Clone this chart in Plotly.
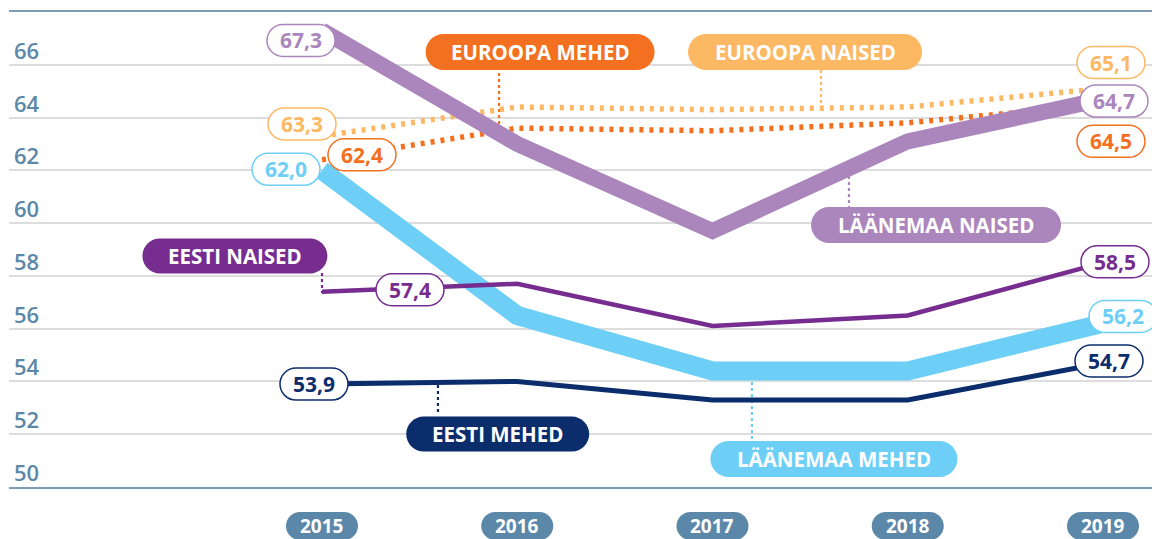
import plotly.graph_objects as go

# ---------------- data ----------------
years = [2015, 2016, 2017, 2018, 2019]
laanemaa_naised = [67.3, 63.0, 59.7, 63.1, 64.7]
laanemaa_mehed = [62.0, 56.5, 54.4, 54.4, 56.2]
eesti_naised = [57.4, 57.7, 56.1, 56.5, 58.5]
eesti_mehed = [53.9, 54.0, 53.3, 53.3, 54.7]
euroopa_mehed = [62.4, 63.6, 63.5, 63.8, 64.5]
euroopa_naised = [63.3, 64.4, 64.3, 64.4, 65.1]
y_ticks = [50, 52, 54, 56, 58, 60, 62, 64, 66]
year_labels = ["2015", "2016", "2017", "2018", "2019"]

# ---------------- styles ----------------
C_LN = "#ab86bd"   # Läänemaa naised
C_LM = "#6dcff6"   # Läänemaa mehed
C_EN = "#772c8f"   # Eesti naised
C_EM = "#0b2d6b"   # Eesti mehed
C_UM = "#f37021"   # Euroopa mehed
C_UN = "#fdb863"   # Euroopa naised
C_AX = "#5b87a9"
FONT = "Open Sans"

X0, X1 = 2013.397, 2019.292
Y0, Y1 = 50, 68

fig = go.Figure()


def line(y, color, width, dash=None, name=""):
    fig.add_trace(go.Scatter(
        x=years, y=y, mode="lines", name=name, hoverinfo="skip",
        line=dict(color=color, width=width, dash=dash),
    ))


line(laanemaa_mehed, C_LM, 19, name="Läänemaa mehed")
line(euroopa_naised, C_UN, 5.5, dash="4px,6px", name="Euroopa naised")
line(euroopa_mehed, C_UM, 5.5, dash="4px,6px", name="Euroopa mehed")
line(laanemaa_naised, C_LN, 16, name="Läänemaa naised")
line(eesti_naised, C_EN, 4.5, name="Eesti naised")
line(eesti_mehed, C_EM, 5, name="Eesti mehed")


def pill_path(w, h, dx=0.0, dy=0.0):
    r = h / 2.0
    k = 0.5523 * r
    x0, x1 = dx - w / 2.0, dx + w / 2.0
    y0, y1 = dy - h / 2.0, dy + h / 2.0
    return (f"M{x0+r},{y0} L{x1-r},{y0} "
            f"C{x1-r+k},{y0} {x1},{y0+r-k} {x1},{y0+r} "
            f"C{x1},{y0+r+k} {x1-r+k},{y1} {x1-r},{y1} "
            f"L{x0+r},{y1} "
            f"C{x0+r-k},{y1} {x0},{y1-r+k} {x0},{y1-r} "
            f"C{x0},{y1-r-k} {x0+r-k},{y0} {x0+r},{y0} Z")


shapes = []
annotations = []


def pill(x, y, text, w, h, fill, border, textcolor, dx=0, dy=0,
         xref="x", yref="y", size=21, bw=1.5):
    shapes.append(dict(
        type="path", xref=xref, yref=yref, xsizemode="pixel", ysizemode="pixel",
        xanchor=x, yanchor=y, path=pill_path(w, h, dx, dy),
        fillcolor=fill, line=dict(color=border, width=bw), layer="above",
    ))
    annotations.append(dict(
        x=x, y=y, xref=xref, yref=yref, xshift=dx, yshift=dy, text=f"<b>{text}</b>",
        showarrow=False, xanchor="center", yanchor="middle",
        font=dict(family=FONT, size=size, color=textcolor),
    ))


def connector(x, ya, yb, color):
    shapes.append(dict(
        type="line", xref="x", yref="y", x0=x, x1=x, y0=ya, y1=yb,
        line=dict(color=color, width=2.2, dash="dot"), layer="between",
    ))


# connectors from series-name pills to their lines
connector(2015.907, 65.69, 63.60, C_UM)
connector(2017.556, 65.80, 64.36, C_UN)
connector(2017.699, 62.01, 60.61, C_LN)
connector(2015.000, 58.11, 57.35, C_EN)
connector(2015.594, 53.87, 52.80, C_EM)
connector(2017.202, 53.98, 51.78, C_LM)

# series-name pills
NS = 20.5
pill(2016.117, 66.48, "EUROOPA MEHED", 229, 36, C_UM, C_UM, "white", size=NS, bw=0)
pill(2017.474, 66.48, "EUROOPA NAISED", 234, 36, C_UN, C_UN, "white", size=NS, bw=0)
pill(2018.145, 59.93, "LÄÄNEMAA NAISED", 250, 36, C_LN, C_LN, "white", size=NS, bw=0)
pill(2014.554, 58.75, "EESTI NAISED", 185, 35, C_EN, C_EN, "white", size=NS, bw=0)
pill(2015.900, 52.01, "EESTI MEHED", 183, 35, C_EM, C_EM, "white", size=NS, bw=0)
pill(2017.622, 51.06, "LÄÄNEMAA MEHED", 247, 36, C_LM, C_LM, "white", size=NS, bw=0)


def fmt(v):
    return f"{v:.1f}".replace(".", ",")


# value pills at first and last points (pixel offsets)
VW, VH, VS = 68, 32, 21
pill(years[0], laanemaa_naised[0], fmt(laanemaa_naised[0]), VW, VH, "white", C_LN, C_LN, dx=-21, dy=-10, size=VS)
pill(years[0], euroopa_naised[0], fmt(euroopa_naised[0]), VW, VH, "white", C_UN, C_UN, dx=-20, dy=12, size=VS)
pill(years[0], euroopa_mehed[0], fmt(euroopa_mehed[0]), VW, VH, "white", C_UM, C_UM, dx=40, dy=5, size=VS)
pill(years[0], laanemaa_mehed[0], fmt(laanemaa_mehed[0]), VW, VH, "white", C_LM, C_LM, dx=-36, dy=1, size=VS)
pill(years[0], eesti_naised[0], fmt(eesti_naised[0]), VW, VH, "white", C_EN, C_EN, dx=88, dy=2, size=VS)
pill(years[0], eesti_mehed[0], fmt(eesti_mehed[0]), VW, VH, "white", C_EM, C_EM, dx=-8, dy=0, size=VS)
pill(years[-1], euroopa_naised[-1], fmt(euroopa_naised[-1]), VW, VH, "white", C_UN, C_UN, dx=8, dy=26, size=VS)
pill(years[-1], laanemaa_naised[-1], fmt(laanemaa_naised[-1]), VW, VH, "white", C_LN, C_LN, dx=11, dy=-2, size=VS)
pill(years[-1], euroopa_mehed[-1], fmt(euroopa_mehed[-1]), VW, VH, "white", C_UM, C_UM, dx=8, dy=-37, size=VS)
pill(years[-1], eesti_naised[-1], fmt(eesti_naised[-1]), VW, VH, "white", C_EN, C_EN, dx=12, dy=1, size=VS)
pill(years[-1], laanemaa_mehed[-1], fmt(laanemaa_mehed[-1]), VW, VH, "white", C_LM, C_LM, dx=20, dy=7, size=VS)
pill(years[-1], eesti_mehed[-1], fmt(eesti_mehed[-1]), VW, VH, "white", C_EM, C_EM, dx=6, dy=2, size=VS)

# year pills below the axis
for yr, lab in zip(years, year_labels):
    px = (yr - X0) / (X1 - X0)
    pill(px, -0.082, lab, 72, 28, C_AX, C_AX, "white", xref="paper", yref="paper", size=19, bw=0)

# y tick labels above their gridlines
for t in y_ticks:
    annotations.append(dict(
        x=0.003, y=t, xref="paper", yref="y", xanchor="left", yanchor="middle",
        yshift=15, showarrow=False, text=str(t),
        font=dict(family=FONT, size=22, color=C_AX, weight=600),
    ))

# the page body has an 8px margin, so the figure is 8px smaller than the window
fig.update_layout(
    width=1152, height=531,
    margin=dict(l=1, r=0, t=4, b=52),
    paper_bgcolor="white", plot_bgcolor="white",
    showlegend=False,
    shapes=shapes, annotations=annotations,
    xaxis=dict(range=[X0, X1], showgrid=False, zeroline=False, showticklabels=False,
               showline=True, mirror=True, linecolor="#7c9cb6", linewidth=2, ticks=""),
    yaxis=dict(range=[Y0, Y1], tickvals=y_ticks, showgrid=True, gridcolor="#dddddd",
               gridwidth=1.5, zeroline=False, showticklabels=False, showline=False, ticks=""),
    hovermode=False,
)

fig.write_html("out.html")
